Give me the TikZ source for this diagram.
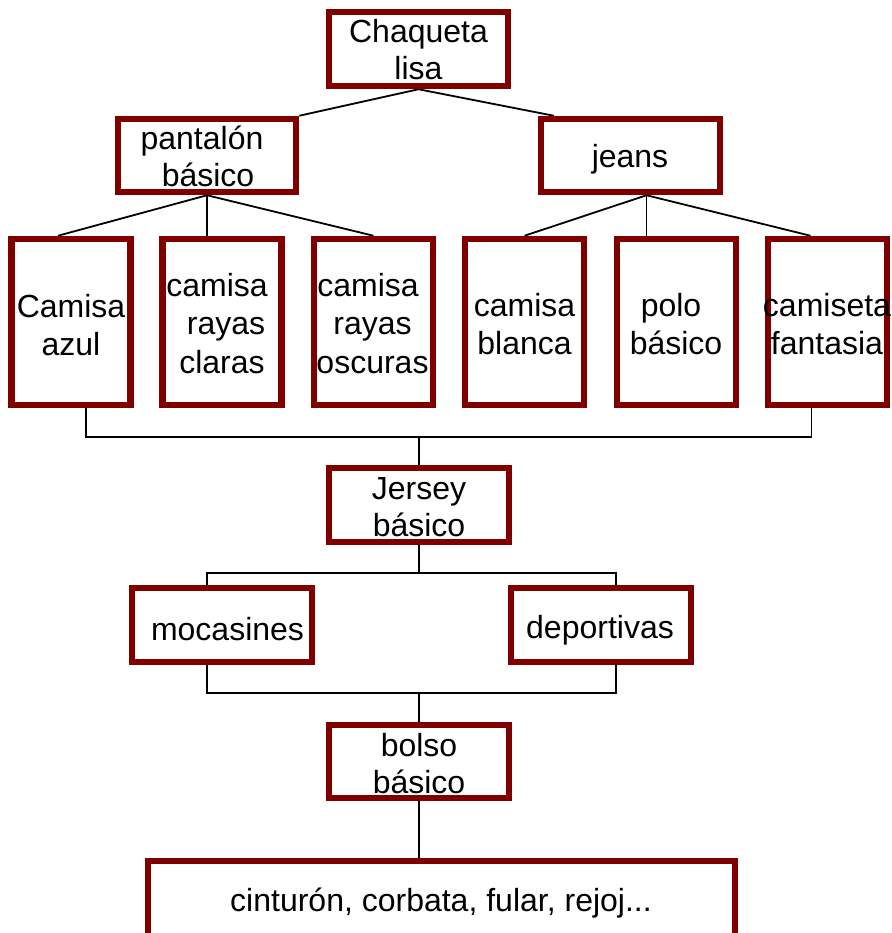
\documentclass[tikz,border=0pt]{standalone}
\usepackage{fontspec}
\setmainfont{Liberation Sans}
\usetikzlibrary{calc}
\definecolor{boxred}{HTML}{800000}
\pgfdeclarelayer{bg}
\pgfsetlayers{bg,main}
\newcommand\mylines[1]{\begin{tabular}[t]{@{}c@{}}#1\end{tabular}}
\begin{document}
\begin{tikzpicture}[x=1pt,y=-1pt,
  box/.style={draw=boxred, line width=6.5pt, fill=white, inner sep=0pt},
  lbl/.style={anchor=base, inner sep=0pt, font=\fontsize{32}{37}\selectfont},
  lbltall/.style={anchor=base, inner sep=0pt, font=\fontsize{32}{38.5}\selectfont},
  conn/.style={draw=black, line width=1.8pt}]
\useasboundingbox (0,0) rectangle (891,933);
\clip (0,0) rectangle (891,933);

% boxes
\node[box, minimum width=179pt, minimum height=74pt] (chaq) at (418.5,49) {};
\node[box, minimum width=178pt, minimum height=73pt] (pant) at (207,155.5) {};
\node[box, minimum width=179pt, minimum height=73pt] (jeans) at (630.5,155.5) {};
\node[box, minimum width=119pt, minimum height=166pt] (azul) at (71,322) {};
\node[box, minimum width=119pt, minimum height=166pt] (claras) at (222,322) {};
\node[box, minimum width=119pt, minimum height=166pt] (oscuras) at (373.5,322) {};
\node[box, minimum width=119pt, minimum height=166pt] (blanca) at (524.5,322) {};
\node[box, minimum width=119pt, minimum height=166pt] (polo) at (676.5,322) {};
\node[box, minimum width=119pt, minimum height=166pt] (fant) at (827.5,322) {};
\node[box, minimum width=180pt, minimum height=74pt] (jersey) at (419,505) {};
\node[box, minimum width=180pt, minimum height=74pt] (moc) at (222,625) {};
\node[box, minimum width=180pt, minimum height=74pt] (dep) at (601,625) {};
\node[box, minimum width=180pt, minimum height=73pt] (bolso) at (419,761.5) {};
\node[box, minimum width=587pt, minimum height=82pt] (cint) at (441.5,902) {};

% texts
\node[lbl] (chaqT) at (418.5,43) {\mylines{Chaqueta\\lisa}};
\node[lbl] (pantT) at (202,150) {\mylines{pantalón\\\hspace*{12pt}básico}};
\node[lbl] (jeansT) at (630,168) {jeans};
\node[lbltall] (azulT) at (71,317) {\mylines{Camisa\\azul}};
\node[lbltall] (clarasT) at (217,296) {\mylines{camisa\\\hspace*{18pt}rayas\\\hspace*{10pt}claras}};
\node[lbltall] (oscurasT) at (372.5,296) {\mylines{camisa\hspace*{9pt}\\rayas\\oscuras}};
\node[lbltall] (blancaT) at (524.5,316) {\mylines{camisa\\blanca}};
\node[lbltall] (poloT) at (676,316) {\mylines{polo\hspace*{10pt}\\básico}};
\node[lbltall] (fantT) at (827,316) {\mylines{camiseta\\fantasia}};
\node[lbl] (jerseyT) at (419,499) {\mylines{Jersey\\básico}};
\node[lbl] (mocT) at (227.5,640) {mocasines};
\node[lbl] (depT) at (600,638) {deportivas};
\node[lbl] (bolsoT) at (419,756) {\mylines{bolso\\básico}};
\node[lbl] (cintT) at (441,911) {cinturón, corbata, fular, rejoj...};

\coordinate (b1) at (419,437);
\coordinate (b2) at (419,573);
\coordinate (b3) at (419,693);
\coordinate (jo) at ($(jeans.south)+(16,0)$);

\begin{pgfonlayer}{bg}
\fill[white] (0,0) rectangle (891,933);
\draw[conn] (chaq.south) -- (pant.north east);
\draw[conn] (chaq.south) -- ($(jeans.north west)+(16,0)$);
\draw[conn] (pant.south) -- ($(azul.north)+(-13,0)$);
\draw[conn] (pant.south) -- (pant.south |- claras.north);
\draw[conn] (pant.south) -- (oscuras.north);
\draw[conn] (jo) -- (blanca.north);
\draw[conn] (jo) -- (jo |- polo.north);
\draw[conn] (jo) -- ($(fant.north)+(-17,0)$);
\draw[conn] ($(azul.south)+(15,0)$) |- (b1) -| ($(fant.south)+(-16,0)$);
\draw[conn] (b1) -- (jersey.north);
\draw[conn] (jersey.south) -- (b2);
\draw[conn] ($(moc.north)+(-15,0)$) |- (b2) -| ($(dep.north)+(15,0)$);
\draw[conn] ($(moc.south)+(-15,0)$) |- (b3) -| ($(dep.south)+(15,0)$);
\draw[conn] (b3) -- (bolso.north);
\draw[conn] (bolso.south) -- (bolso.south |- cint.north);
\end{pgfonlayer}
\end{tikzpicture}
\end{document}
